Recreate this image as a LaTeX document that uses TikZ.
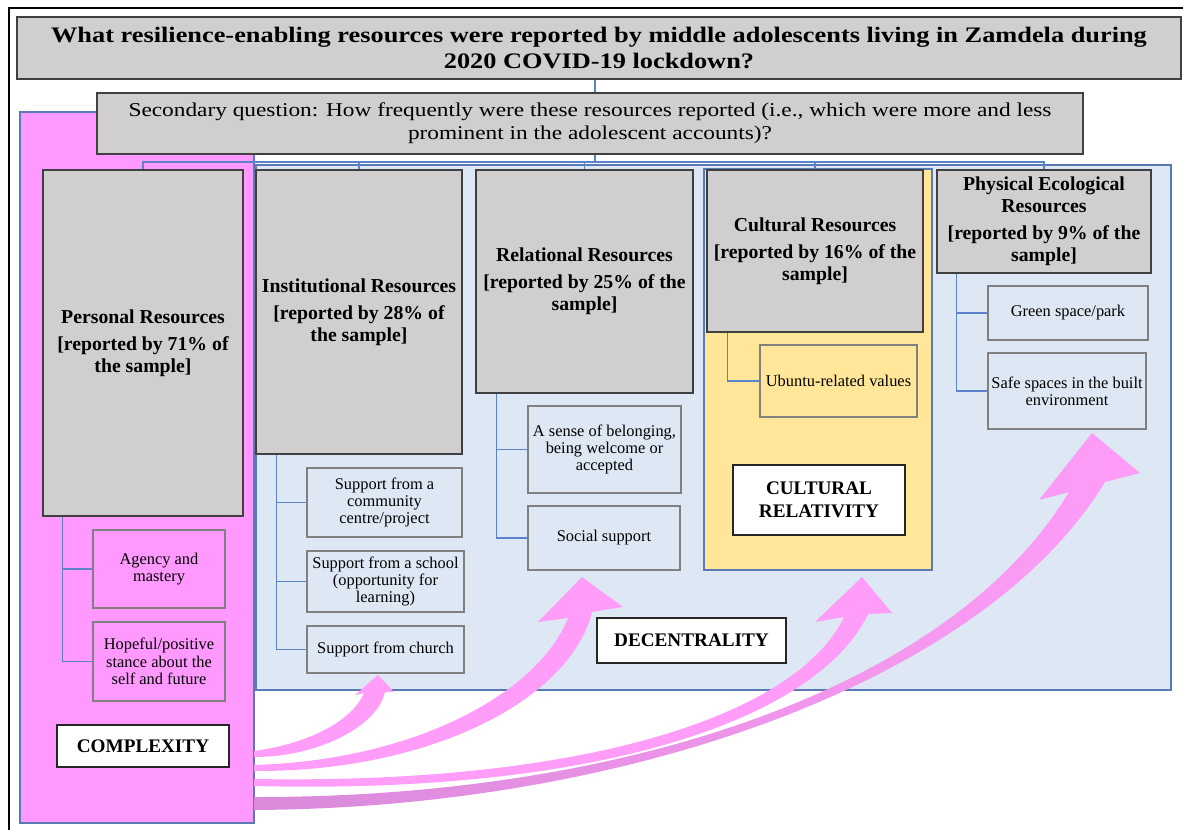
\documentclass[tikz,border=0pt]{standalone}
\usepackage{fontspec}
\setmainfont{Liberation Serif}
\newfontfamily\wideserif[FakeStretch=1.19]{Liberation Serif}
\definecolor{hdrgray}{HTML}{D0CECE}
\definecolor{pinkbg}{HTML}{FF99FF}
\definecolor{bluebg}{HTML}{DEE8F4}
\definecolor{yellowbg}{HTML}{FFE699}
\definecolor{linkblue}{HTML}{5B83C9}
\definecolor{frameblue}{HTML}{5A7AB5}
\definecolor{arrowpink}{HTML}{FF9DF8}
\definecolor{arrowdark}{HTML}{D98AD9}
\begin{document}
\begin{tikzpicture}[x=0.75pt,y=-0.75pt,
 spot/.style args={#1/#2/#3/#4}{minimum width={(#3-#1)*0.75pt}, minimum height={(#4-#2)*0.75pt}, at={({(#1+#3)/2},{(#2+#4)/2})}},
 qbox/.style={draw=black!75, line width=0.9pt, fill=hdrgray, inner sep=0pt, align=center},
 hdr/.style={draw=black!75, line width=0.9pt, fill=hdrgray, inner sep=0pt, align=center, font=\bfseries\fontsize{14.8}{16.5}\selectfont},
 leaf/.style={draw=black!50, line width=1.6pt, inner sep=0pt, align=center, font=\fontsize{12.3}{12.9}\selectfont},
 tag/.style={draw=black!85, line width=0.9pt, fill=white, inner sep=0pt, align=center, font=\bfseries\fontsize{14.4}{17}\selectfont},
 conn/.style={draw=linkblue, line width=0.8pt},
 region/.style={draw=frameblue, line width=0.8pt},
 parrow/.style={fill=arrowpink, draw=none}]
\useasboundingbox (0,0) rectangle (1183,830);
% outer frame
\draw[line width=1.6pt] (9,840) -- (9,8) -- (1195,8);
% regions
\path[region, fill=pinkbg] (20,112) rectangle (254,823);
\path[region, fill=bluebg] (256,165) rectangle (1171,690);
\path[region, fill=yellowbg] (704,169) rectangle (932,570);
% questions
\node[qbox, spot=17/17/1181/79, font=\wideserif\bfseries\fontsize{16.6}{18.8}\selectfont] (title)
 {What resilience-enabling resources were reported by middle adolescents living in Zamdela during\\2020 COVID-19 lockdown?};
\node[qbox, spot=97/93/1083/154, font=\wideserif\fontsize{14.7}{17}\selectfont] (sec)
 {Secondary question: How frequently were these resources reported (i.e., which were more and less\\prominent in the adolescent accounts)?};
% headers
\node[hdr, spot=43/170/243/516] (pers) {Personal Resources\\[4pt][reported by 71\% of\\the sample]};
\node[hdr, spot=256/170/462/454] (inst) {Institutional Resources\\[4pt][reported by 28\% of\\the sample]};
\node[hdr, spot=476/170/693/393] (rel) {Relational Resources\\[4pt][reported by 25\% of the\\sample]};
\node[hdr, spot=707/170/923/332] (cult) {Cultural Resources\\[4pt][reported by 16\% of the\\sample]};
\node[hdr, spot=937/170/1151/273] (phys) {Physical Ecological\\Resources\\[4pt][reported by 9\% of the\\sample]};
% leaves
\node[leaf, fill=pinkbg, spot=93/530/225/608] (agency) {Agency and\\mastery};
\node[leaf, fill=pinkbg, spot=93/622/225/701] (hope) {Hopeful/positive\\stance about the\\self and future};
\node[leaf, fill=bluebg, spot=307/468/462/537] (comm) {Support from a\\community\\centre/project};
\node[leaf, fill=bluebg, spot=307/551/464/612] (school) {Support from a school\\(opportunity for\\learning)};
\node[leaf, fill=bluebg, spot=307/626/464/673] (church) {Support from church};
\node[leaf, fill=bluebg, spot=528/406/681/493] (belong) {A sense of belonging,\\being welcome or\\accepted};
\node[leaf, fill=bluebg, spot=528/506/680/570] (social) {Social support};
\node[leaf, fill=yellowbg, spot=760/345/917/417] (ubuntu) {Ubuntu-related values};
\node[leaf, fill=bluebg, spot=988/286/1148/340] (green) {Green space/park};
\node[leaf, fill=bluebg, spot=988/353/1146/429] (safe) {Safe spaces in the built\\environment};
% tags
\node[tag, spot=57/725/229/767] (complex) {COMPLEXITY};
\node[tag, spot=733/465/905/535] (relat) {CULTURAL\\RELATIVITY};
\node[tag, spot=597/618/786/663] (decent) {DECENTRALITY};
% connectors
\coordinate (bus) at (595,162);
\draw[conn] (title.south -| bus) -- (sec.north -| bus);
\draw[conn] (sec.south -| bus) -- (bus);
\draw[conn] (pers.north) -- (pers.north |- bus) -- (phys.north |- bus) -- (phys.north);
\draw[conn] (inst.north) -- (inst.north |- bus);
\draw[conn] (rel.north) -- (rel.north |- bus);
\draw[conn] (cult.north) -- (cult.north |- bus);
\draw[conn] ([xshift=15pt]pers.south west) |- (agency.west);
\draw[conn] ([xshift=15pt]pers.south west) |- (hope.west);
\draw[conn] ([xshift=16pt]inst.south west) |- (comm.west);
\draw[conn] ([xshift=16pt]inst.south west) |- (school.west);
\draw[conn] ([xshift=16pt]inst.south west) |- (church.west);
\draw[conn] ([xshift=16pt]rel.south west) |- (belong.west);
\draw[conn] ([xshift=16pt]rel.south west) |- (social.west);
\draw[conn] ([xshift=16pt]cult.south west) |- (ubuntu.west);
\draw[conn] ([xshift=15pt]phys.south west) |- (green.west);
\draw[conn] ([xshift=15pt]phys.south west) |- (safe.west);
% pink curved arrows
\path[parrow] (254,751) .. controls (300,745) and (350,725) .. (364,693)
  -- (355,695) -- (378,675) -- (394,692) -- (385,692)
  .. controls (378,725) and (320,757) .. (254,757) -- cycle;
\path[parrow] (254,765) .. controls (420,760) and (540,690) .. (568,618)
  -- (538,622) -- (582,577) -- (623,607) -- (592,612)
  .. controls (570,700) and (430,772) .. (254,771) -- cycle;
\path[parrow] (254,779) .. controls (600,785) and (800,710) .. (844,617)
  -- (815,622) -- (862,577) -- (892,613) -- (868,614)
  .. controls (820,715) and (610,795) .. (254,786) -- cycle;
\shade[left color=arrowdark, middle color=arrowpink, right color=arrowpink] (254,797) .. controls (620,798) and (950,690) .. (1069,492)
  -- (1039,500) -- (1092,433) -- (1140,473) -- (1105,482)
  .. controls (985,680) and (630,808) .. (254,810) -- cycle;
\end{tikzpicture}
\end{document}
